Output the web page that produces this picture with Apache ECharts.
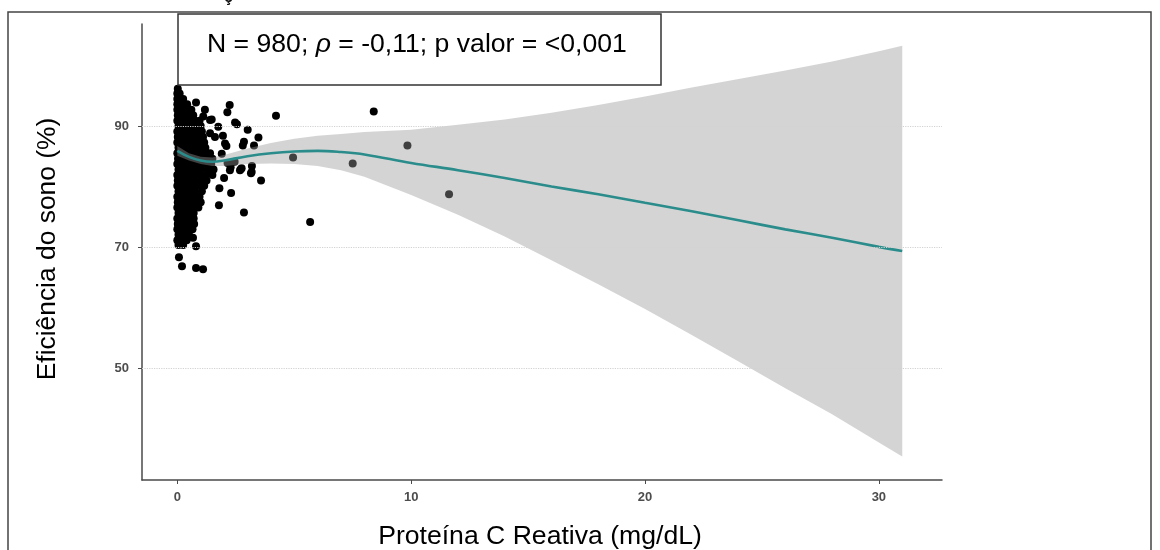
<!DOCTYPE html>
<html>
<head>
<meta charset="utf-8">
<script src="https://cdn.jsdelivr.net/npm/echarts@6/dist/echarts.min.js"></script>
<style>
html,body{margin:0;padding:0;background:#fff;}
#chart{width:1160px;height:550px;}
</style>
</head>
<body>
<div id="chart"></div>
<script>
// ---- data ----
const xTickValues = [0, 10, 20, 30];
const yTickValues = [50, 70, 90];

// LOESS fit and confidence band
const fitX    = [0, 0.5, 1, 1.5, 2, 3, 4, 5, 6, 7, 8, 10, 12, 14, 16, 18, 20, 22, 24, 26, 28, 30, 31];
const fitY    = [86.0, 85.0, 84.4, 84.2, 84.4, 85.1, 85.6, 85.9, 86.0, 85.8, 85.4, 84.0, 82.8, 81.5, 80.1, 78.8, 77.4, 76.0, 74.5, 73.0, 71.6, 70.1, 69.4];
const ciUpper = [86.8, 85.6, 85.0, 84.9, 85.3, 86.4, 87.3, 88.0, 88.5, 88.8, 89.1, 89.5, 90.3, 91.2, 92.3, 93.6, 95.0, 96.5, 97.9, 99.3, 100.8, 102.5, 103.4];
const ciLower = [85.2, 84.4, 83.8, 83.5, 83.5, 83.8, 83.9, 83.8, 83.5, 82.8, 81.7, 78.7, 75.4, 71.8, 67.9, 63.9, 59.8, 55.5, 51.1, 46.7, 42.4, 37.7, 35.4];

// Dense cluster of observations near CRP = 0 (rows: efficiency, list of CRP values)
const clusterRows = [
  [96.3, [0.02]],
  [95.5, [0.0, 0.1]],
  [94.6, [0.0, 0.12, 0.25]],
  [93.7, [0.0, 0.15, 0.3, 0.42]],
  [92.8, [0.0, 0.15, 0.3, 0.45, 0.6]],
  [91.9, [0.02, 0.18, 0.35, 0.5, 0.68]],
  [91.0, [0.0, 0.2, 0.4, 0.55, 0.75, 0.95]],
  [90.1, [0.05, 0.2, 0.4, 0.6, 0.8, 1.0]],
  [89.2, [0.0, 0.2, 0.4, 0.6, 0.8, 1.05]],
  [88.3, [0.02, 0.22, 0.4, 0.62, 0.85, 1.1]],
  [87.4, [0.0, 0.2, 0.45, 0.65, 0.9, 1.15]],
  [86.5, [0.05, 0.25, 0.45, 0.7, 0.95, 1.2]],
  [85.6, [0.0, 0.2, 0.4, 0.65, 0.9, 1.15, 1.4]],
  [84.7, [0.03, 0.25, 0.5, 0.75, 1.0, 1.25, 1.5]],
  [83.8, [0.0, 0.22, 0.45, 0.7, 0.95, 1.2, 1.45]],
  [82.9, [0.05, 0.25, 0.5, 0.75, 1.0, 1.3, 1.55]],
  [82.0, [0.0, 0.2, 0.45, 0.7, 0.95, 1.2, 1.5]],
  [81.1, [0.02, 0.25, 0.5, 0.72, 1.0, 1.25]],
  [80.2, [0.0, 0.2, 0.45, 0.7, 0.95, 1.15]],
  [79.3, [0.05, 0.25, 0.5, 0.75, 1.05]],
  [78.4, [0.0, 0.2, 0.45, 0.7, 0.95]],
  [77.5, [0.02, 0.25, 0.5, 0.75, 1.0]],
  [76.6, [0.0, 0.2, 0.42, 0.65, 0.9]],
  [75.7, [0.05, 0.25, 0.48, 0.7]],
  [74.8, [0.0, 0.2, 0.45, 0.7]],
  [73.9, [0.02, 0.25, 0.5, 0.72]],
  [73.0, [0.0, 0.2, 0.45, 0.65]],
  [72.1, [0.05, 0.25, 0.5]],
  [71.2, [0.0, 0.2, 0.4]],
  [70.4, [0.05, 0.25]]
];

// Scattered observations (CRP, efficiency)
const scatteredPoints = [
  [0.80, 94.0], [2.24, 93.6], [2.14, 92.4], [2.47, 90.7], [2.55, 90.4], [3.01, 89.5],
  [3.47, 88.2], [3.28, 86.9], [2.85, 87.5], [2.80, 86.9], [4.22, 91.8], [8.40, 92.5],
  [9.84, 86.9], [4.95, 84.9], [7.50, 83.9], [5.68, 74.2], [2.85, 75.8], [3.58, 81.1],
  [3.19, 83.5], [3.18, 82.5], [2.72, 83.0], [2.45, 84.2], [2.28, 83.3], [1.80, 79.8],
  [1.78, 77.0], [1.18, 92.8], [1.40, 91.1], [1.75, 90.0], [1.61, 88.3], [2.10, 86.8],
  [1.95, 88.5], [11.62, 78.8], [0.67, 71.6], [0.80, 70.2], [0.07, 68.4], [0.20, 66.9],
  [0.80, 66.6], [1.10, 66.4], [3.15, 82.3], [2.68, 82.8], [2.0, 81.5], [2.3, 79.0],
  [1.9, 85.5], [2.15, 84.0], [1.11, 91.7], [1.47, 91.2], [1.40, 88.9], [2.04, 87.2],
  [2.75, 83.1], [2.25, 82.8]
];

const annotationText = ['N = 980; ', 'ρ', ' = -0,11; p valor = <0,001'];
const xTitle = 'Proteína C Reativa (mg/dL)';
const yTitle = 'Eficiência do sono (%)';

// ---- build ----
const points = [];
clusterRows.forEach(r => r[1].forEach(x => points.push([x, r[0]])));
scatteredPoints.forEach(p => points.push(p));

const fitLine = fitX.map((x, i) => [x, fitY[i]]);
const bandData = fitX.map((x, i) => [x, ciLower[i], ciUpper[i]]);

const FONT = "'Liberation Sans', Arial, sans-serif";
const chart = echarts.init(document.getElementById('chart'), null, {renderer: 'canvas'});

chart.setOption({
  animation: false,
  backgroundColor: '#ffffff',
  grid: {left: 142, right: 218, top: 24, bottom: 70, containLabel: false},
  xAxis: {
    type: 'value', min: -1.51, max: 32.7,
    axisLine: {show: true, onZero: false, lineStyle: {color: '#4a4a4a', width: 1.5}},
    axisTick: {show: true, length: 4, customValues: xTickValues, lineStyle: {color: '#4a4a4a', width: 1}},
    axisLabel: {show: true, customValues: xTickValues, margin: 11, color: '#4d4d4d', fontSize: 13, fontWeight: 'bold', fontFamily: FONT},
    splitLine: {show: false}
  },
  yAxis: {
    type: 'value', min: 31.5, max: 107,
    axisLine: {show: true, onZero: false, lineStyle: {color: '#4a4a4a', width: 1.5}},
    axisTick: {show: true, length: 4, customValues: yTickValues, lineStyle: {color: '#4a4a4a', width: 1}},
    axisLabel: {show: true, customValues: yTickValues, margin: 13, color: '#4d4d4d', fontSize: 13, fontWeight: 'bold', fontFamily: FONT},
    splitLine: {show: false}
  },
  series: [
    {
      type: 'line', data: [], silent: true,
      markLine: {
        silent: true, symbol: 'none', label: {show: false},
        lineStyle: {color: '#d2d2d2', type: 'dotted', width: 1.2},
        data: yTickValues.map(v => ({yAxis: v}))
      },
      z: 1
    },
    {
      type: 'scatter', data: points, symbol: 'circle', symbolSize: 8,
      itemStyle: {color: '#000000', opacity: 1}, z: 2, silent: true
    },
    {
      type: 'custom', data: bandData, z: 3, silent: true,
      renderItem: function (params, api) {
        if (params.dataIndex !== 0) return null;
        const up = bandData.map(d => api.coord([d[0], d[2]]));
        const lo = bandData.map(d => api.coord([d[0], d[1]])).reverse();
        return {
          type: 'polygon',
          shape: {points: up.concat(lo), smooth: 0},
          style: {fill: 'rgba(153,153,153,0.42)'}
        };
      }
    },
    {
      type: 'line', data: fitLine, smooth: 0.4, showSymbol: false, z: 4, silent: true,
      lineStyle: {color: '#2b8c8c', width: 2.6}
    }
  ],
  graphic: [
    {type: 'rect', shape: {x: 8, y: 12, width: 1143, height: 560}, style: {fill: null, stroke: '#444', lineWidth: 1.5}, z: 10},
    {type: 'text', x: 224, y: -10, style: {text: 'ç', font: "bold 16px " + FONT, fill: '#111'}, z: 10},
    {type: 'rect', shape: {x: 178, y: 14, width: 483, height: 71}, style: {fill: '#fff', stroke: '#333', lineWidth: 1.5}, z: 10},
    {type: 'text', x: 207, y: 45, z: 11,
      style: {
        text: '{a|' + annotationText[0] + '}{b|' + annotationText[1] + '}{a|' + annotationText[2] + '}',
        verticalAlign: 'middle', align: 'left',
        rich: {
          a: {font: "26.6px " + FONT, fill: '#000'},
          b: {font: "italic 26.6px " + FONT, fill: '#000'}
        }
      }
    },
    {type: 'text', x: 540, y: 537, z: 11,
      style: {text: xTitle, font: "26.6px " + FONT, fill: '#000', align: 'center', verticalAlign: 'middle'}},
    {type: 'text', x: 48, y: 249, rotation: Math.PI / 2, z: 11,
      style: {text: yTitle, font: "26.4px " + FONT, fill: '#000', align: 'center', verticalAlign: 'middle'}}
  ]
});
</script>
</body>
</html>
